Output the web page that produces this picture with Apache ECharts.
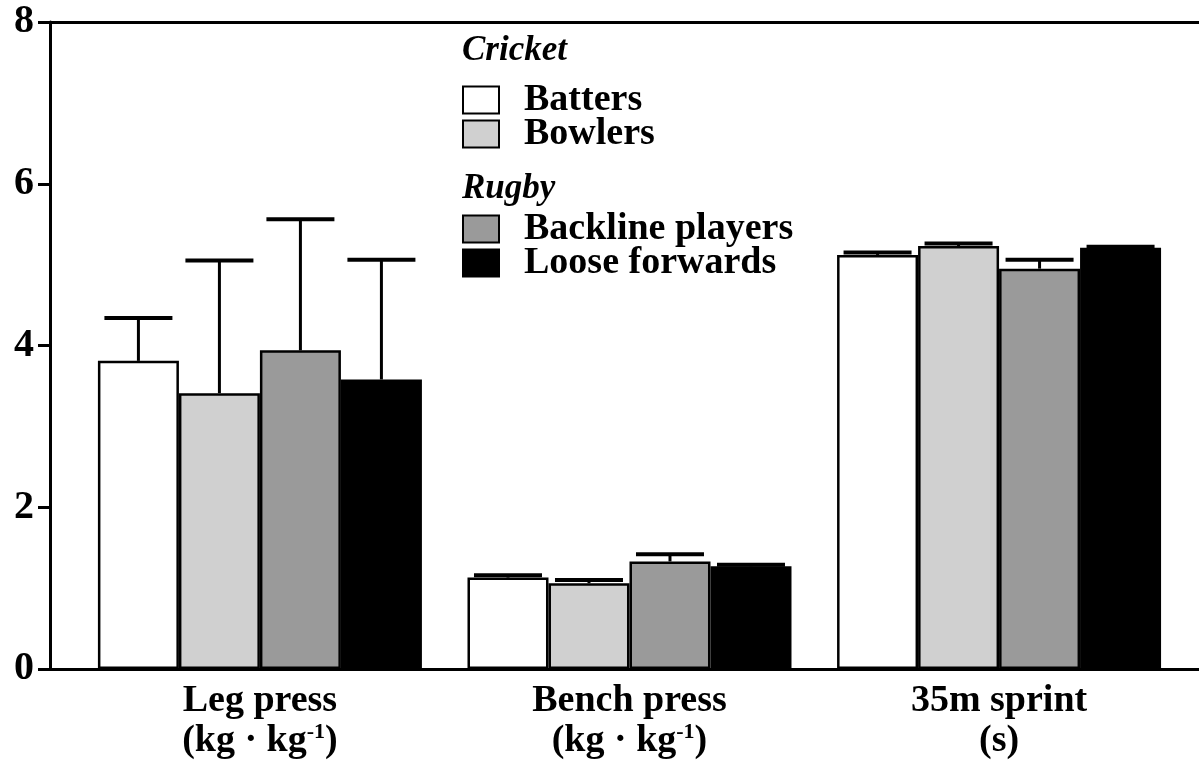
<!DOCTYPE html>
<html>
<head>
<meta charset="utf-8">
<script src="https://cdn.jsdelivr.net/npm/echarts@6/dist/echarts.min.js"></script>
<style>
  html, body { margin: 0; padding: 0; background: #ffffff; }
  #chart { width: 1199px; height: 760px; }
</style>
</head>
<body>
<div id="chart"></div>
<script>
  "use strict";

  // Measures (x positions 0, 1, 2 on the x axis)
  var categories = ["Leg press", "Bench press", "35m sprint"];
  var unitBase = ["kg · kg", "kg · kg", "s"];
  var unitSup = ["-1", "-1", ""];

  var seriesNames = ["Batters", "Bowlers", "Backline players", "Loose forwards"];

  // Mean values per measure
  var batters = [3.81, 1.13, 5.12];
  var bowlers = [3.41, 1.06, 5.23];
  var backline = [3.94, 1.33, 4.95];
  var looseForwards = [3.58, 1.27, 5.21];

  // Upper error bar end (mean + SD)
  var battersSd = [4.34, 1.16, 5.15];
  var bowlersSd = [5.05, 1.10, 5.26];
  var backlineSd = [5.56, 1.42, 5.06];
  var looseForwardsSd = [5.06, 1.29, 5.22];

  var yTicks = [0, 2, 4, 6, 8];

  var fontFamily = "'Liberation Serif', 'DejaVu Serif', serif";
  var colors = ["#ffffff", "#d0d0d0", "#9a9a9a", "#000000"];
  var barWidth = 81;

  var means = [batters, bowlers, backline, looseForwards];
  var tops = [battersSd, bowlersSd, backlineSd, looseForwardsSd];

  function toPoints(values) {
    return values.map(function(v, i) {
      return [i, v];
    });
  }

  function buildBarSeries() {
    return seriesNames.map(function(name, i) {
      return {
        name: name,
        type: "bar",
        data: toPoints(means[i]),
        barWidth: barWidth,
        barGap: "0%",
        itemStyle: {
          color: colors[i],
          borderColor: "#000000",
          borderWidth: 2.5
        },
        z: 2
      };
    });
  }

  function buildErrorSeries() {
    return seriesNames.map(function(name, i) {
      var data = means[i].map(function(v, j) {
        return [j, v, tops[i][j]];
      });
      return {
        name: name + " SD",
        type: "custom",
        data: data,
        z: 3,
        renderItem: function(params, api) {
          var offset = (i - 1.5) * barWidth;
          var base = api.coord([api.value(0), api.value(1)]);
          var top = api.coord([api.value(0), api.value(2)]);
          var cx = base[0] + offset;
          return {
            type: "group",
            children: [{
              type: "line",
              shape: {x1: cx, y1: base[1], x2: cx, y2: top[1]},
              style: {stroke: "#000000", lineWidth: 3}
            }, {
              type: "line",
              shape: {x1: cx - 34, y1: top[1], x2: cx + 34, y2: top[1]},
              style: {stroke: "#000000", lineWidth: 4}
            }]
          };
        }
      };
    });
  }

  function buildLegend(names, top) {
    return {
      data: names,
      orient: "vertical",
      left: 462,
      top: top,
      padding: 0,
      icon: "rect",
      itemWidth: 36,
      itemHeight: 27,
      itemGap: -4,
      selectedMode: false,
      itemStyle: {borderColor: "#000000", borderWidth: 2},
      textStyle: {
        fontFamily: fontFamily,
        fontWeight: "bold",
        fontSize: 38,
        lineHeight: 32,
        color: "#000000",
        padding: [0, 0, 0, 20]
      }
    };
  }

  function buildTitle(text, top) {
    return {
      text: text,
      left: 462,
      top: top,
      padding: 0,
      textStyle: {
        fontFamily: fontFamily,
        fontWeight: "bold",
        fontStyle: "italic",
        fontSize: 35,
        color: "#000000"
      }
    };
  }

  var chart = echarts.init(document.getElementById("chart"), null, {renderer: "canvas"});

  var option = {
    backgroundColor: "#ffffff",
    animation: false,
    title: [buildTitle("Cricket", 33), buildTitle("Rugby", 171)],
    legend: [
      buildLegend(["Batters", "Bowlers"], 81),
      buildLegend(["Backline players", "Loose forwards"], 210)
    ],
    grid: {left: 50, right: 0, top: 22, bottom: 89, containLabel: false},
    xAxis: [{
      type: "value",
      min: -0.568,
      max: 2.541,
      splitLine: {show: false},
      axisLine: {show: true, onZero: false, lineStyle: {color: "#000000", width: 3}},
      axisTick: {show: false},
      axisLabel: {
        customValues: [0, 1, 2],
        margin: 12,
        formatter: function(value) {
          var idx = Math.round(value);
          var sup = unitSup[idx] ? "{s|" + unitSup[idx] + "}" : "";
          return "{a|" + categories[idx] + "}\n{a|(" + unitBase[idx] + "}" + sup + "{a|)}";
        },
        rich: {
          a: {
            fontFamily: fontFamily,
            fontWeight: "bold",
            fontSize: 38,
            lineHeight: 40,
            color: "#000000"
          },
          s: {
            fontFamily: fontFamily,
            fontWeight: "bold",
            fontSize: 22,
            lineHeight: 30,
            verticalAlign: "top",
            color: "#000000"
          }
        }
      }
    }, {
      type: "value",
      position: "top",
      min: -0.568,
      max: 2.541,
      splitLine: {show: false},
      axisLine: {show: true, onZero: false, lineStyle: {color: "#000000", width: 3}},
      axisTick: {show: false},
      axisLabel: {show: false}
    }],
    yAxis: {
      type: "value",
      min: yTicks[0],
      max: yTicks[yTicks.length - 1],
      interval: 2,
      splitLine: {show: false},
      axisLine: {show: true, onZero: false, lineStyle: {color: "#000000", width: 3}},
      axisTick: {show: true, inside: false, length: 12, lineStyle: {color: "#000000", width: 3}},
      axisLabel: {
        margin: 16,
        fontFamily: fontFamily,
        fontWeight: "bold",
        fontSize: 40,
        color: "#000000"
      }
    },
    series: buildBarSeries().concat(buildErrorSeries())
  };

  chart.setOption(option);
</script>
</body>
</html>
